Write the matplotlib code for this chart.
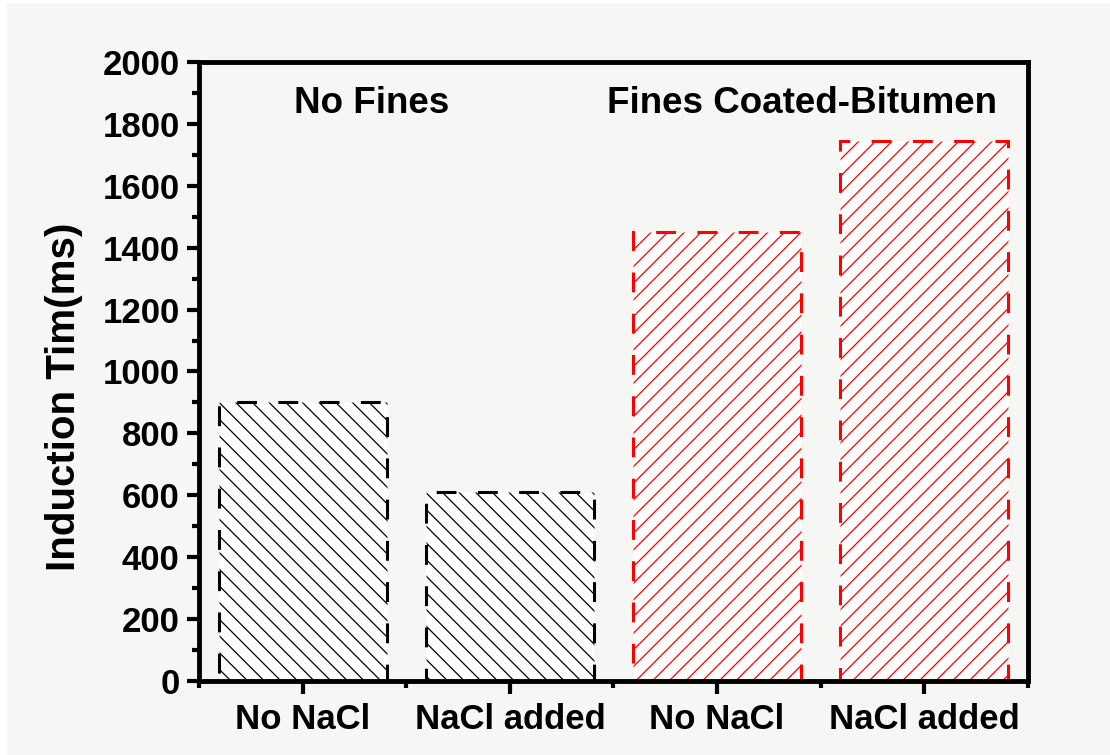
import matplotlib.pyplot as plt
from matplotlib.patches import Rectangle
from matplotlib.ticker import MultipleLocator, FixedLocator

# Induction time for the four test conditions
conditions = ['No NaCl', 'NaCl added', 'No NaCl', 'NaCl added']
induction_time = [900, 610, 1450, 1745]
edge_colors = ['black', 'black', 'red', 'red']
hatches = ['\\\\', '\\\\', '//', '//']
group_labels = ['No Fines', 'Fines Coated-Bitumen']
group_label_x = [0.335, 2.41]
group_label_y = [1867, 1867]

plt.rcParams['font.family'] = ['Liberation Sans', 'DejaVu Sans']
plt.rcParams['font.weight'] = 'bold'
plt.rcParams['hatch.linewidth'] = 0.9

bg = '#f6f6f4'
fig = plt.figure(figsize=(11.1, 7.55), dpi=100, facecolor='white')
fig.patches.append(Rectangle((7 / 1110, 0), 1, 1 - 3 / 755, transform=fig.transFigure,
                             facecolor=bg, edgecolor='none', zorder=-10))
ax = fig.add_axes([0.1793, 0.098, 0.7468, 0.820])
ax.set_facecolor(bg)

x = range(len(conditions))
for i in x:
    ax.bar(i, induction_time[i], width=0.81, facecolor='white',
           edgecolor=edge_colors[i], hatch=hatches[i], linewidth=2.2,
           linestyle=(0, (6.5, 7.0)), zorder=2)

for label, lx, ly in zip(group_labels, group_label_x, group_label_y):
    ax.text(lx, ly, label, ha='center', va='center', fontsize=26.5, fontweight='bold')

ax.set_xlim(-0.5, 3.5)
ax.set_ylim(0, 2000)
ax.xaxis.set_major_locator(FixedLocator(list(x)))
ax.set_xticklabels(conditions)
ax.xaxis.set_minor_locator(FixedLocator([-0.5, 0.5, 1.5, 2.5, 3.5]))
ax.yaxis.set_major_locator(MultipleLocator(200))
ax.yaxis.set_minor_locator(MultipleLocator(100))

for s in ax.spines.values():
    s.set_linewidth(3.5)
    s.set_zorder(3)
ax.tick_params(which='major', direction='out', length=9, width=3, labelsize=25)
ax.tick_params(which='minor', direction='out', length=5, width=3)
ax.tick_params(axis='y', which='major', pad=5)
ax.tick_params(axis='x', which='major', pad=7)
for t in ax.get_xticklabels() + ax.get_yticklabels():
    t.set_fontweight('bold')

ax.set_ylabel('Induction Tim(ms)', fontsize=29, fontweight='bold')
ax.yaxis.set_label_coords(-0.14, 0.459)

fig.savefig('out.png', dpi=100, facecolor=fig.get_facecolor())
